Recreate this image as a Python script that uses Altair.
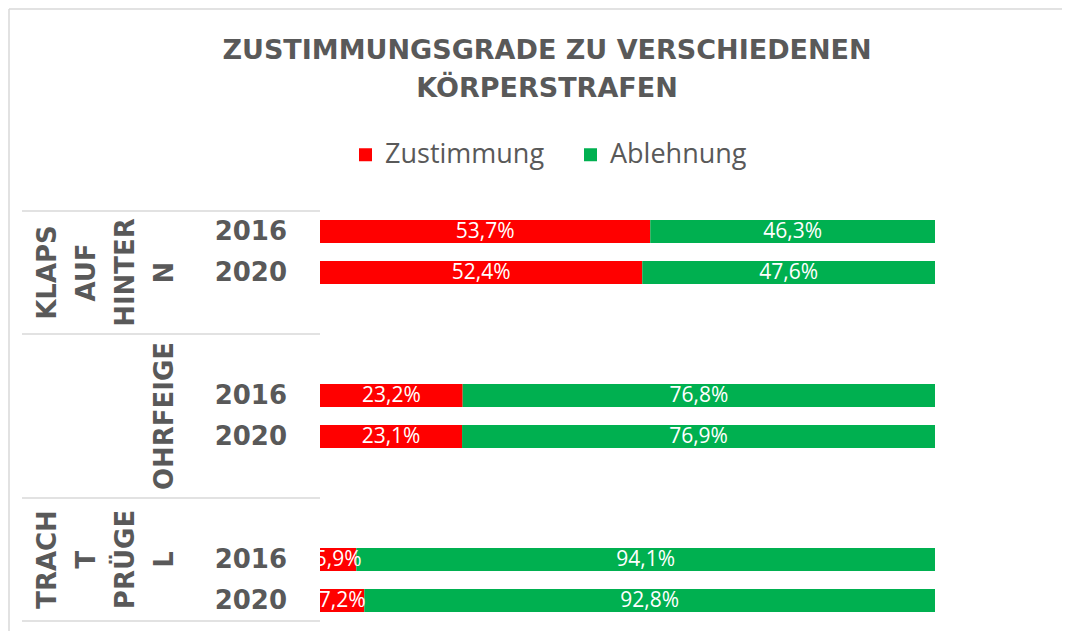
import altair as alt
import pandas as pd

# ---- data ----
group_labels = ["KLAPS\nAUF\nHINTER\nN", "OHRFEIGE", "TRACH\nT\nPRÜGE\nL"]
group_first_slot = [0, 3, 7]
group_last_slot = [3, 7, 10]
years = ["2016", "2020", "2016", "2020", "2016", "2020"]
slots = [0, 1, 4, 5, 8, 9]
zustimmung = [53.7, 52.4, 23.2, 23.1, 5.9, 7.2]
ablehnung = [46.3, 47.6, 76.8, 76.9, 94.1, 92.8]
series = ["Zustimmung", "Ablehnung"]
colors = ["#FF0000", "#00B050"]
title_lines = ["ZUSTIMMUNGSGRADE ZU VERSCHIEDENEN", "KÖRPERSTRAFEN"]

GRAY = "#595959"
GRID = "#D9D9D9"
LINE_H = 39

rows = []
for i in range(len(slots)):
    z, a = zustimmung[i], ablehnung[i]
    for s, st, en in ((series[0], 0.0, z), (series[1], z, z + a)):
        v = en - st
        rows.append(dict(yc=slots[i] + 0.5, year=years[i], serie=s, start=st, end=en,
                         mid=(st + en) / 2, label=f"{v:.1f}".replace(".", ",") + "%"))
df = pd.DataFrame(rows)
ydf = pd.DataFrame({"yc": [s + 0.5 for s in slots], "year": years})
gdf = pd.DataFrame({"g": group_labels,
                    "nbreaks": [g.count("\n") for g in group_labels],
                    "gc": [(a + b) / 2 for a, b in zip(group_first_slot, group_last_slot)]})
bdf = pd.DataFrame({"b": sorted(set(group_first_slot + group_last_slot))})
one = pd.DataFrame({"k": [0]})

xs = alt.Scale(domain=[0, 120], nice=False, zero=False, padding=0)
ys = alt.Scale(domain=[0, 10], reverse=True, nice=False, zero=False, padding=0)

bars = alt.Chart(df).mark_bar(orient="horizontal", size=23).encode(
    x=alt.X("start:Q", scale=xs, axis=None),
    x2="end:Q",
    y=alt.Y("yc:Q", scale=ys, axis=alt.Axis(values=list(range(11)), grid=True, gridColor=GRID,
                                             gridWidth=1.5, labels=False, ticks=False, domain=True,
                                             domainColor=GRID, domainWidth=1.5, title=None)),
    color=alt.Color("serie:N", scale=alt.Scale(domain=series, range=colors),
                    legend=alt.Legend(orient="none", legendX=32, legendY=-70, direction="horizontal",
                                      title=None, symbolType="square", symbolSize=169,
                                      symbolStrokeWidth=0, labelFont="Open Sans", labelFontSize=27,
                                      labelColor=GRAY, columnPadding=32, labelOffset=6)),
)

labels = alt.Chart(df).mark_text(color="white", font="Open Sans", fontSize=21, clip=True).encode(
    x=alt.X("mid:Q", scale=xs, axis=None),
    y=alt.Y("yc:Q", scale=ys, axis=None),
    text="label:N",
)

year_txt = alt.Chart(ydf).mark_text(align="right", baseline="middle", font="DejaVu Sans",
                                    fontWeight="bold", fontSize=26, color=GRAY).encode(
    x=alt.value(-33),
    y=alt.Y("yc:Q", scale=ys, axis=None),
    text="year:N",
)

group_txt = alt.Chart(gdf).mark_text(angle=270, align="center", baseline="bottom", lineBreak="\n",
                                     lineHeight=LINE_H, font="DejaVu Sans", fontWeight="bold",
                                     fontSize=26, color=GRAY).encode(
    x=alt.value(-142),
    xOffset=alt.XOffset("nbreaks:Q", scale=alt.Scale(domain=[0, 3], range=[0, -3 * LINE_H])),
    y=alt.Y("gc:Q", scale=ys, axis=None),
    text="g:N",
)

bounds = alt.Chart(bdf).mark_rule(color=GRID, strokeWidth=1.5).encode(
    x=alt.value(-298), x2=alt.value(0),
    y=alt.Y("b:Q", scale=ys, axis=None),
)

frame_top = alt.Chart(one).mark_rule(color=GRID, strokeWidth=1.5).encode(
    x=alt.value(-311), x2=alt.value(760), y=alt.value(-202))
frame_left = alt.Chart(one).mark_rule(color=GRID, strokeWidth=1.5).encode(
    x=alt.value(-311), y=alt.value(-202), y2=alt.value(480))

chart = alt.layer(frame_top, frame_left, bounds, bars, labels, year_txt, group_txt).properties(
    width=738, height=410,
    autosize=alt.AutoSizeParams(type="none"),
    padding={"left": 312, "top": 203, "right": 4, "bottom": 10},
    title=alt.TitleParams(text=title_lines, font="DejaVu Sans", fontWeight="bold", fontSize=27,
                          color=GRAY, anchor="middle", frame="group", dx=-142, offset=-95,
                          lineHeight=38),
).configure_view(stroke=None)

chart.save("out.html", embed_options={"renderer": "svg", "actions": False})
